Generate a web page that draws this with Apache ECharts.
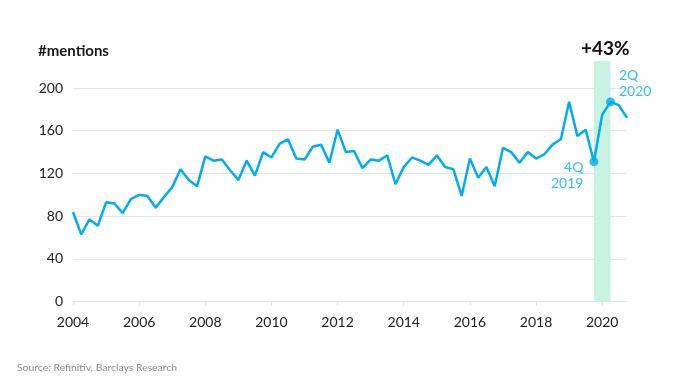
<!DOCTYPE html>
<html><head><meta charset="utf-8">
<script src="https://cdn.jsdelivr.net/npm/echarts@6/dist/echarts.min.js"></script>
<style>html,body{margin:0;padding:0;background:#fff}#c{width:675px;height:386px}</style>
</head><body><div id="c"></div>
<script>
// ---- data ----
const startYear = 2004;
const endYear = 2020;
const quarters = [];
for (let y = startYear; y <= endYear; y++) for (let q = 1; q <= 4; q++) quarters.push(y + 'Q' + q);

const mentions = [
  84, 63, 77, 71, 93, 92, 83, 96, 100, 99,
  88, 98, 107, 124, 114, 108, 136, 132, 133, 123,
  114, 132, 118, 140, 135, 148, 152, 134, 133, 145,
  147, 130, 161, 140, 141, 125, 133, 132, 137, 110,
  126, 135, 132, 128, 137, 126, 124, 99, 134, 116,
  126, 108, 144, 140, 130, 140, 134, 138, 147, 152,
  187, 155, 161, 131, 175, 187, 184, 172
];
const markerQuarters = ['2019Q4', '2020Q2'];
const markerLabels = ['4Q\n2019', '2Q\n2020'];
const yTicks = [0, 40, 80, 120, 160, 200];
const sourceText = 'Source: Refinitiv, Barclays Research';
const unitTitle = '#mentions';

// ---- chart ----
const FONT = 'Lato, "Open Sans", sans-serif';
const BLUE = '#00AEEF';
const chart = echarts.init(document.getElementById('c'), null, {renderer: 'canvas'});

const markerData = markerQuarters.map((q, k) => {
  const v = mentions[quarters.indexOf(q)];
  const left = k === 0;
  return {
    value: [q, v],
    label: {
      show: true,
      formatter: markerLabels[k],
      position: left ? 'left' : 'right',
      align: left ? 'right' : 'left',
      distance: left ? 6 : 4,
      offset: left ? [0, 14] : [0, -18],
      color: BLUE,
      fontFamily: FONT,
      fontSize: 14,
      lineHeight: 16
    }
  };
});

chart.setOption({
  animation: false,
  title: [
    {text: unitTitle, left: 33, top: 39, padding: 5, textStyle: {fontFamily: FONT, fontSize: 15, fontWeight: 'bold', color: '#1a1a1a'}},
    {text: sourceText, left: 12, top: 358, padding: 5, textStyle: {fontFamily: FONT, fontSize: 10.4, fontWeight: 'normal', color: '#8c8c8c'}}
  ],
  grid: {left: 73, right: 48, top: 88, bottom: 84.3},
  xAxis: {
    type: 'category',
    data: quarters,
    boundaryGap: false,
    axisLine: {show: true, lineStyle: {color: '#e3e3e3', width: 1}},
    axisTick: {show: true, interval: 7, length: 4, lineStyle: {color: '#e3e3e3'}},
    axisLabel: {
      interval: 7, margin: 14,
      formatter: v => v.slice(0, 4),
      fontFamily: FONT, fontSize: 14, color: '#222'
    },
    splitLine: {show: false}
  },
  yAxis: {
    type: 'value',
    min: yTicks[0], max: yTicks[yTicks.length - 1], interval: 40,
    axisLine: {show: false}, axisTick: {show: false},
    axisLabel: {margin: 10, fontFamily: FONT, fontSize: 14, color: '#222'},
    splitLine: {lineStyle: {color: '#e6e6e6', width: 1}}
  },
  series: [
    {type: 'line', data: mentions, symbol: 'none', z: 3,
     lineStyle: {color: BLUE, width: 2.5}, itemStyle: {color: BLUE}},
    {type: 'scatter', data: markerData, symbol: 'circle', symbolSize: 9, z: 4,
     itemStyle: {color: BLUE}}
  ]
});

// shaded band and percentage change annotation
const x0 = chart.convertToPixel({xAxisIndex: 0}, markerQuarters[0]);
const x1 = chart.convertToPixel({xAxisIndex: 0}, markerQuarters[1]);
const yBottom = chart.convertToPixel({yAxisIndex: 0}, 0);
const v0 = mentions[quarters.indexOf(markerQuarters[0])];
const v1 = mentions[quarters.indexOf(markerQuarters[1])];
const pct = Math.round((v1 / v0 - 1) * 100);
chart.setOption({
  graphic: [
    {type: 'rect', z: 1, silent: true,
     shape: {x: x0, y: 61, width: x1 - x0, height: yBottom - 61},
     style: {fill: '#c8f2e2'}},
    {type: 'text', z: 5, x: (x0 + x1) / 2 + 3, y: 49,
     style: {text: '+' + pct + '%', fill: '#111', font: 'bold 19px ' + FONT, align: 'center', verticalAlign: 'middle'}}
  ]
});
</script>
</body></html>
